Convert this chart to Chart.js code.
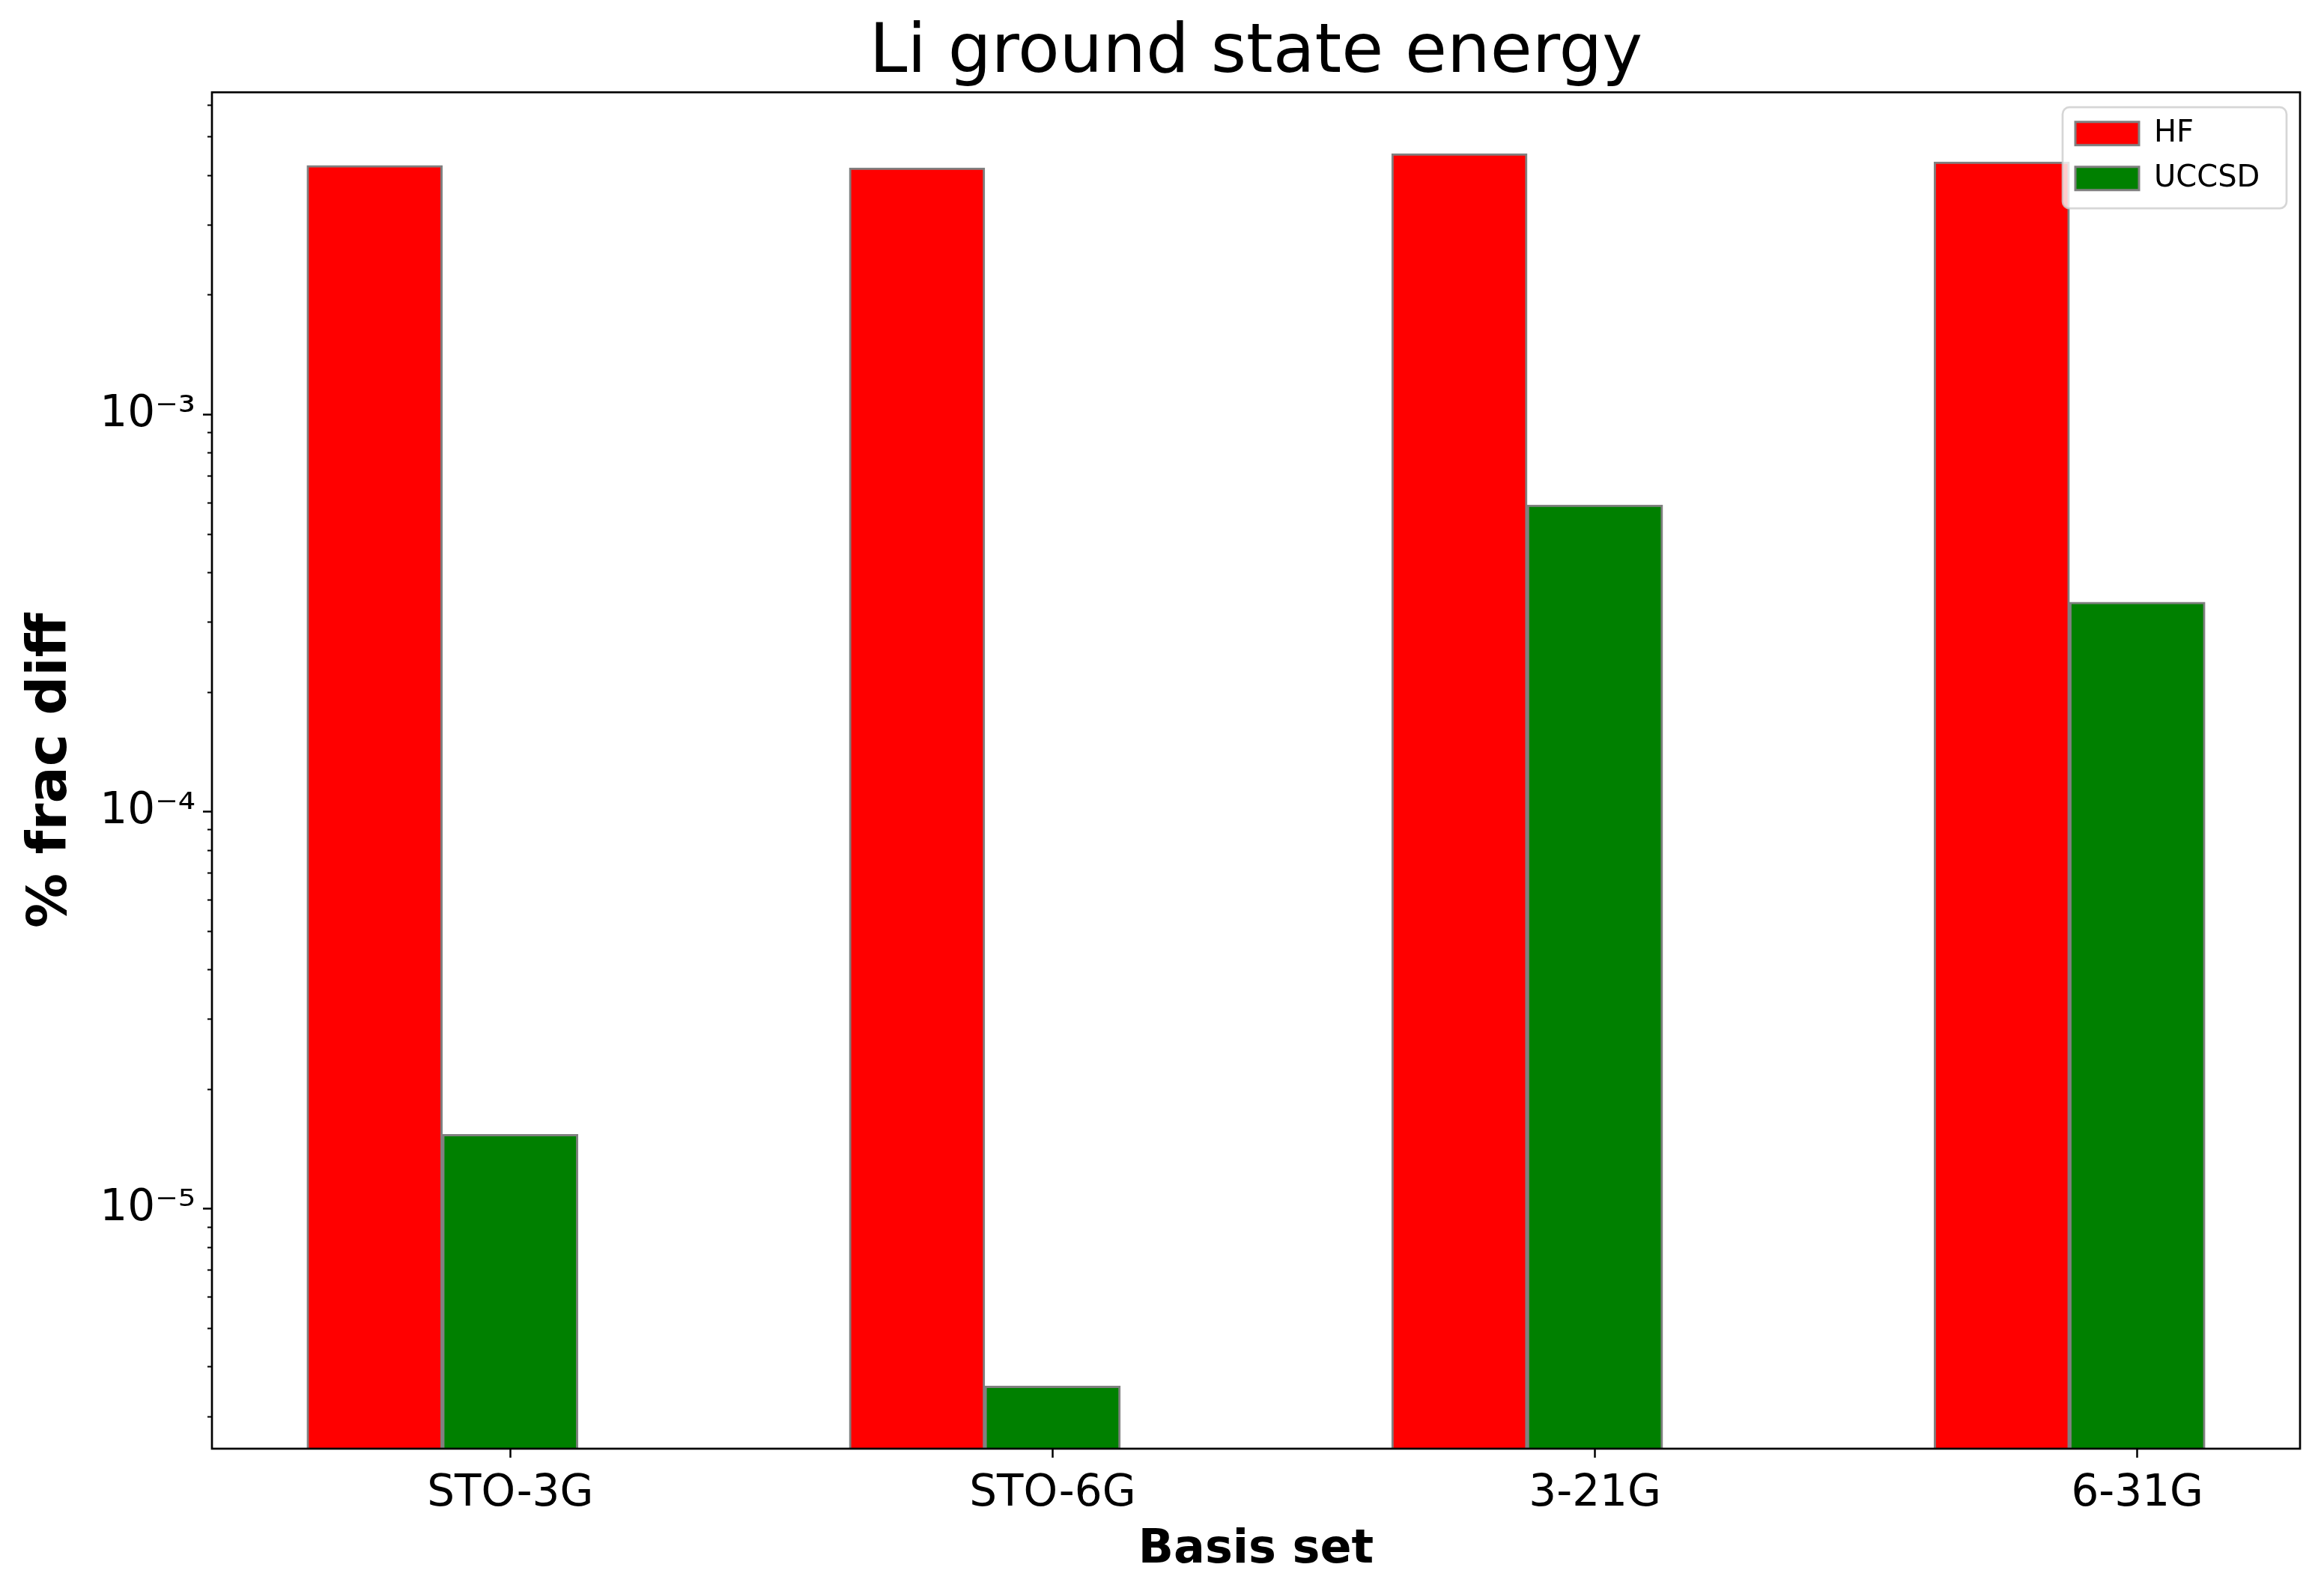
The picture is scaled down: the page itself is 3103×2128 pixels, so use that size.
<!DOCTYPE html>
<html>
<head>
<meta charset="utf-8">
<script src="https://cdn.jsdelivr.net/npm/chart.js@4.4.0/dist/chart.umd.min.js"></script>
<style>
  html, body { margin: 0; padding: 0; background: #fff; }
  #wrap { width: 3103px; height: 2128px; }
</style>
</head>
<body>
<div id="wrap"><canvas id="c" width="3103" height="2128"></canvas></div>
<script>
// Li ground state energy — % frac diff per basis set, log y axis
const categories = ["STO-3G", "STO-6G", "3-21G", "6-31G"];
const hfValues = [4.24e-3, 4.18e-3, 4.54e-3, 4.33e-3];
const uccsdValues = [1.54e-5, 3.58e-6, 5.92e-4, 3.37e-4];
const yMajorTicks = [1e-5, 1e-4, 1e-3];
const yTickLabels = ["10⁻⁵", "10⁻⁴", "10⁻³"];
const yRange = [2.49e-6, 6.48e-3];

const BAR_W = 0.25;
Chart.defaults.font.family = "'DejaVu Sans', sans-serif";
Chart.defaults.color = "#000";

const isMajor = (v) => yMajorTicks.some((m) => Math.abs(v - m) / m < 1e-6);
const tickVal = (c) => (c.tick ? c.tick.value : 1);

// spines + matplotlib-like legend box (legend drawn above bars)
const LEG_PAD = 20, LEG_FONT = 40;
const framePlugin = {
  id: "frame",
  afterInit(chart) {
    const lg = chart.legend;
    if (lg) lg._layers = () => [{ z: 1, draw: (area) => lg.draw(area) }];
  },
  afterLayout(chart) {
    const lg = chart.legend, a = chart.chartArea;
    const frameR = a.right - 18, frameL = frameR - 299;
    lg.left = frameL - 3; lg.right = frameR; lg.width = lg.right - lg.left;
    lg.top = a.top + 15; lg.height = 3 * LEG_PAD + 2 * LEG_FONT + 5; lg.bottom = lg.top + lg.height;
    chart.$frame = { x: frameL, y: lg.top + 5, w: frameR - frameL, h: 3 * LEG_PAD + 2 * LEG_FONT - 5 };
  },
  afterDatasetsDraw(chart) {
    const { ctx, chartArea: a } = chart;
    ctx.save();
    ctx.strokeStyle = "#000";
    ctx.lineWidth = 2.7;
    ctx.strokeRect(a.left, a.top, a.right - a.left, a.bottom - a.top);
    const f = chart.$frame, r = 9;
    ctx.beginPath();
    ctx.moveTo(f.x + r, f.y);
    ctx.arcTo(f.x + f.w, f.y, f.x + f.w, f.y + f.h, r);
    ctx.arcTo(f.x + f.w, f.y + f.h, f.x, f.y + f.h, r);
    ctx.arcTo(f.x, f.y + f.h, f.x, f.y, r);
    ctx.arcTo(f.x, f.y, f.x + f.w, f.y, r);
    ctx.closePath();
    ctx.fillStyle = "rgba(255,255,255,0.8)";
    ctx.fill();
    ctx.strokeStyle = "rgba(204,204,204,0.8)";
    ctx.lineWidth = 2.7;
    ctx.stroke();
    ctx.restore();
  },
};

const barStyle = { borderColor: "grey", borderWidth: 3, grouped: false, categoryPercentage: 1, barPercentage: 1 };

new Chart(document.getElementById("c"), {
  type: "bar",
  data: {
    datasets: [
      { label: "HF", data: hfValues.map((v, i) => ({ x: i, y: v })), backgroundColor: "red", ...barStyle },
      { label: "UCCSD", data: uccsdValues.map((v, i) => ({ x: i + BAR_W, y: v })), backgroundColor: "green", ...barStyle },
    ],
  },
  options: {
    responsive: false,
    animation: false,
    devicePixelRatio: 1,
    layout: { padding: { right: 32 } },
    plugins: {
      title: {
        display: true, fullSize: false, text: "Li ground state energy", color: "#000",
        font: { size: 91, weight: "normal" }, padding: { top: 18, bottom: -4 },
      },
      legend: {
        position: "chartArea", align: "start",
        labels: { boxWidth: 85, boxHeight: 31, padding: LEG_PAD, font: { size: LEG_FONT }, color: "#000" },
      },
      tooltip: { enabled: false },
    },
    scales: {
      x: {
        type: "linear", min: -0.3, max: 3.55, offset: false,
        border: { display: false },
        grid: { drawOnChartArea: false, offset: false, tickLength: 12, tickWidth: 2.5, tickColor: "#000" },
        afterBuildTicks: (s) => { s.ticks = categories.map((_, i) => ({ value: i + BAR_W })); },
        ticks: { autoSkip: false, maxRotation: 0, padding: 14, font: { size: 58 }, callback: (v) => categories[Math.round(v - BAR_W)] },
        title: { display: true, text: "Basis set", font: { size: 62, weight: "bold" }, padding: { top: 0, bottom: 21 } },
        afterFit: (s) => { s.height = 194; },
      },
      y: {
        type: "logarithmic", min: yRange[0], max: yRange[1], bounds: "data",
        border: { display: false },
        grid: {
          drawOnChartArea: false, tickLength: 12, tickColor: "#000",
          tickWidth: (c) => (isMajor(tickVal(c)) ? 2.5 : 2),
          tickBorderDash: (c) => (isMajor(tickVal(c)) ? [] : [0, 6, 6, 100]),
        },
        afterBuildTicks: (s) => {
          const t = [];
          for (let e = -6; e <= -2; e++) {
            for (let m = 1; m < 10; m++) {
              const v = m * Math.pow(10, e);
              if (v >= s.min && v <= s.max) t.push({ value: v });
            }
          }
          s.ticks = t;
        },
        ticks: {
          autoSkip: false, padding: 10, font: { size: 58 },
          callback: (v) => {
            const i = yMajorTicks.findIndex((m) => Math.abs(v - m) / m < 1e-6);
            return i >= 0 ? yTickLabels[i] : "";
          },
        },
        title: { display: true, text: "% frac diff", font: { size: 73, weight: "bold" }, padding: { top: 25, bottom: 0 } },
        afterFit: (s) => { s.width = 283; },
      },
    },
  },
  plugins: [framePlugin],
});
</script>
</body>
</html>
